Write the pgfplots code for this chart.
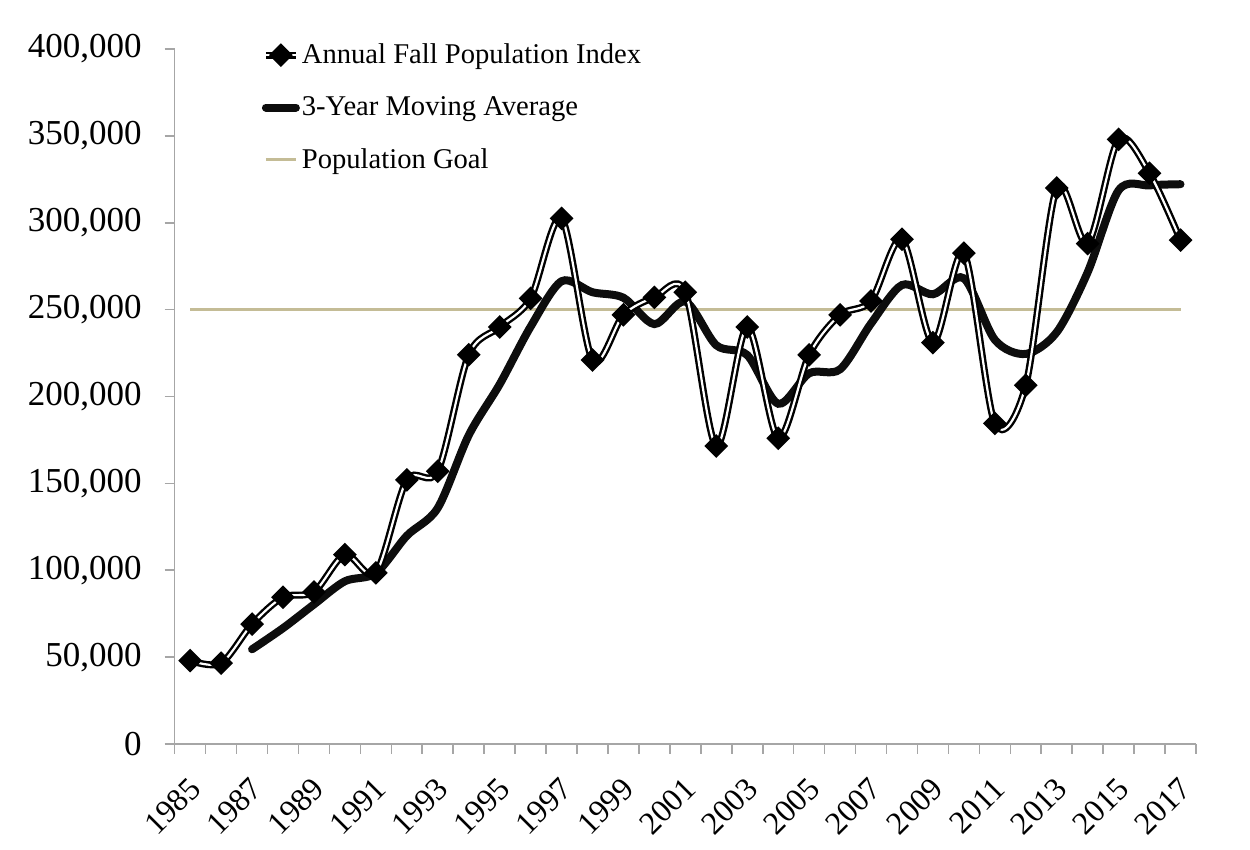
\documentclass[border=0pt]{standalone}
\usepackage{pgfplots}
\pgfplotsset{compat=1.18}
\usepackage{pgfplotstable}
\usepackage{fontspec}
\setmainfont{Liberation Serif}
\definecolor{goalc}{RGB}{196,188,150}
\definecolor{axgray}{RGB}{166,166,166}
\definecolor{mac}{RGB}{13,13,13}

\pgfplotstableread{
year val
1985 48000
1986 46500
1987 69000
1988 84500
1989 87500
1990 109000
1991 98500
1992 152000
1993 157000
1994 224000
1995 240000
1996 256500
1997 302500
1998 221000
1999 247000
2000 257000
2001 260000
2002 171500
2003 240000
2004 176000
2005 224000
2006 247000
2007 255000
2008 290500
2009 231000
2010 282500
2011 184500
2012 206500
2013 320000
2014 288000
2015 348000
2016 328500
2017 290000
}\annual

\pgfplotstableread{
year val
1987 54500
1988 66667
1989 80333
1990 93667
1991 98333
1992 119833
1993 135833
1994 177667
1995 207000
1996 240167
1997 266333
1998 260000
1999 256833
2000 241667
2001 254667
2002 229500
2003 223833
2004 195833
2005 213333
2006 215667
2007 242000
2008 264167
2009 258833
2010 268000
2011 232667
2012 224500
2013 237000
2014 271500
2015 318667
2016 321500
2017 322167
}\mavg

\begin{document}
\begin{tikzpicture}
\path[use as bounding box] (-87.35pt,-53pt) rectangle (537.65pt,372pt);
\begin{axis}[
  at={(0pt,0pt)}, anchor=south west, scale only axis,
  width=510.65pt, height=347.5pt,
  xmin=1984.5, xmax=2017.5, ymin=0, ymax=400000,
  axis lines*=left,
  axis line style={axgray, line width=0.8pt},
  xtick={1985,1987,...,2017},
  minor xtick={1984.5,1985.5,...,2017.5},
  major x tick style={draw=none},
  ytick={0,50000,...,400000},
  tick align=outside,
  major tick length=5pt, minor tick length=5pt,
  tick style={axgray, line width=0.8pt},
  scaled y ticks=false,
  /pgf/number format/assume math mode=true,
  yticklabel style={/pgf/number format/fixed, /pgf/number format/1000 sep={,},
    font=\fontsize{17.5}{20}\selectfont, xshift=-8pt},
  xticklabel style={/pgf/number format/1000 sep={}, rotate=45, anchor=north east,
    inner sep=1pt, xshift=-7.5pt, yshift=-5.5pt, font=\fontsize{16}{18}\selectfont},
  legend style={at={(0.085,1.011)}, anchor=north west, draw=none, fill=none,
    font=\fontsize{14.3}{17}\selectfont, row sep=13pt, inner sep=0pt,
    nodes={inner sep=1pt}},
  legend image code/.code={\draw[mark repeat=2,mark phase=2,#1] plot coordinates {(0pt,0pt) (7.5pt,0pt) (15pt,0pt)};},
  legend cell align=left,
  clip=false,
]
\addplot[goalc, line width=1.5pt, forget plot] coordinates {(1985,250000) (2017,250000)};
\addplot[mac, line width=4pt, line cap=round, smooth, forget plot] table[x=year,y=val] {\mavg};
\addplot[black, line width=1.2pt, double=white, double distance=1.1pt, smooth,
  mark=square*, mark size=3.6pt, mark options={rotate=45, fill=black, draw=none}, forget plot]
  table[x=year,y=val] {\annual};
\addlegendimage{black, line width=1.2pt, double=white, double distance=1.1pt,
  mark=square*, mark size=3.6pt, mark options={rotate=45, fill=black, draw=none}}
\addlegendentry{Annual Fall Population Index}
\addlegendimage{mac, line width=4pt, line cap=round}
\addlegendentry{3-Year Moving Average}
\addlegendimage{goalc, line width=1.5pt}
\addlegendentry{Population Goal}
\end{axis}
\end{tikzpicture}
\end{document}
